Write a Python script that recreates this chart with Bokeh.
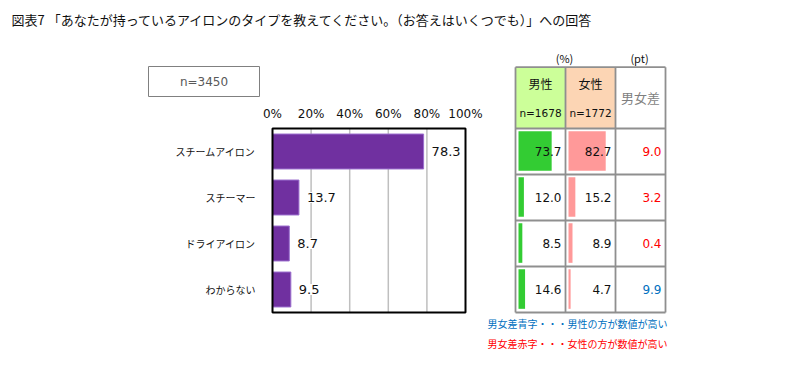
from bokeh.plotting import figure
from bokeh.models import Range1d
from bokeh.core.properties import value
from bokeh.embed import file_html
from bokeh.resources import INLINE

# ---------------- data ----------------
title_text = "図表7 「あなたが持っているアイロンのタイプを教えてください。（お答えはいくつでも）」への回答"
n_total = "n=3450"
categories = ["スチームアイロン", "スチーマー", "ドライアイロン", "わからない"]
total = [78.3, 13.7, 8.7, 9.5]
male = [73.7, 12.0, 8.5, 14.6]
female = [82.7, 15.2, 8.9, 4.7]
diff = [9.0, 3.2, 0.4, 9.9]
tick_values = [0, 20, 40, 60, 80, 100]
tick_labels = ["0%", "20%", "40%", "60%", "80%", "100%"]
col_headers = ["男性", "女性", "男女差"]
col_n = ["n=1678", "n=1772"]
unit_labels = ["(%)", "(pt)"]
notes = ["男女差青字・・・男性の方が数値が高い", "男女差赤字・・・女性の方が数値が高い"]

# ---------------- layout constants (pixels) ----------------
W, H = 810, 375
PLOT_L, PLOT_R = 272, 465       # bar chart plot area x
ROW_TOP, ROW_H = 128, 46        # rows y
TBL_L, COL_W = 515, 50          # table x
HDR_TOP = 66.7

JP = value("Noto Sans CJK JP")
NUM = value("DejaVu Sans")

p = figure(width=W, height=H, x_range=Range1d(0, W), y_range=Range1d(H, 0),
           x_axis_type=None, y_axis_type=None, toolbar_location=None,
           output_backend="svg", min_border=0)
p.outline_line_color = None
p.background_fill_color = "white"
p.border_fill_color = "white"

span = (PLOT_R - PLOT_L)
p.extra_x_ranges["pct"] = Range1d(-PLOT_L * 100 / span, (W - PLOT_L) * 100 / span)
p.extra_y_ranges["cat"] = Range1d((H - ROW_TOP) / ROW_H, -ROW_TOP / ROW_H)
p.extra_x_ranges["tbl"] = Range1d(-TBL_L / COL_W, (W - TBL_L) / COL_W)

nrows = len(categories)
rows_c = [i + 0.5 for i in range(nrows)]

# ---------------- title ----------------
p.text(x=[11], y=[19], text=[title_text], text_font=JP, text_font_size="13px",
       text_color="#111111", text_align="left", text_baseline="middle")

# ---------------- n box ----------------
p.quad(left=[148], right=[259], top=[66], bottom=[96], fill_color="white",
       line_color="#808080", line_width=1)
p.text(x=[203.5], y=[81], text=[n_total], text_font=NUM, text_font_size="12px",
       text_color="#595959", text_align="center", text_baseline="middle")

# ---------------- bar chart ----------------
grid_ticks = [t for t in tick_values if 0 < t < 100]
p.segment(x0=grid_ticks, x1=grid_ticks, y0=[0] * len(grid_ticks), y1=[nrows] * len(grid_ticks),
          x_range_name="pct", y_range_name="cat", line_color="#bfbfbf", line_width=1.5)
p.hbar(y=rows_c, left=0, right=total, height=0.76, x_range_name="pct", y_range_name="cat",
       fill_color="#7030A0", line_color="#9b6fce", line_width=1)
p.quad(left=[0], right=[100], top=[0], bottom=[nrows], x_range_name="pct", y_range_name="cat",
       fill_color=None, line_color="black", line_width=2)
p.text(x=tick_values, y=[0] * len(tick_values), text=tick_labels, x_range_name="pct",
       y_range_name="cat", y_offset=-15, text_font=NUM, text_font_size="12px",
       text_color="#111111", text_align="center", text_baseline="middle")
p.text(x=[0] * nrows, y=rows_c, text=categories, x_range_name="pct", y_range_name="cat",
       x_offset=-17, text_font=JP, text_font_size="10px", text_color="#111111",
       text_align="right", text_baseline="middle")
p.text(x=total, y=rows_c, text=[f"{v:.1f}" for v in total], x_range_name="pct",
       y_range_name="cat", x_offset=7, text_font=NUM, text_font_size="13px",
       text_color="#111111", text_align="left", text_baseline="middle",
       background_fill_color="white", padding=1)

# ---------------- table ----------------
# header fills
p.quad(left=[0, 1], right=[1, 2], top=[HDR_TOP, HDR_TOP], bottom=[ROW_TOP, ROW_TOP],
       x_range_name="tbl", fill_color=["#CCFF99", "#FCD5B4"], line_color=None)
# bars
p.quad(left=[0.06] * nrows, right=[0.06 + 0.9 * v / 100 for v in male],
       top=[i + 0.06 for i in range(nrows)], bottom=[i + 0.92 for i in range(nrows)],
       x_range_name="tbl", y_range_name="cat", fill_color="#33CC33", line_color=None)
p.quad(left=[1.06] * nrows, right=[1.06 + 0.9 * v / 100 for v in female],
       top=[i + 0.06 for i in range(nrows)], bottom=[i + 0.92 for i in range(nrows)],
       x_range_name="tbl", y_range_name="cat", fill_color="#FF9999", line_color=None)
# lines
p.segment(x0=[0, 1, 2, 3], x1=[0, 1, 2, 3], y0=[HDR_TOP] * 4, y1=[ROW_TOP + nrows * ROW_H] * 4,
          x_range_name="tbl", line_color="#8f8f8f", line_width=1.8)
p.segment(x0=[0], x1=[3], y0=[HDR_TOP], y1=[HDR_TOP], x_range_name="tbl",
          line_color="#8f8f8f", line_width=1.8)
p.segment(x0=[0] * (nrows + 1), x1=[3] * (nrows + 1), y0=list(range(nrows + 1)),
          y1=list(range(nrows + 1)), x_range_name="tbl", y_range_name="cat",
          line_color="#8f8f8f", line_width=1.8)
# header text
p.text(x=[0.5, 1.5], y=[83, 83], text=col_headers[:2], x_range_name="tbl", text_font=JP,
       text_font_size="12px", text_color="#111111", text_align="center", text_baseline="middle")
p.text(x=[0.5, 1.5], y=[112, 112], text=col_n, x_range_name="tbl", text_font=NUM,
       text_font_size="10.5px", text_color="#111111", text_align="center", text_baseline="middle")
p.text(x=[2.5], y=[97], text=[col_headers[2]], x_range_name="tbl", text_font=JP,
       text_font_size="13px", text_color="#7f7f7f", text_align="center", text_baseline="middle")
p.text(x=[0.98, 2.48], y=[57, 57], text=unit_labels, x_range_name="tbl", text_font=JP,
       text_font_size="11px", text_color="#111111", text_align="center", text_baseline="middle")
# values
p.text(x=[1] * nrows, y=rows_c, text=[f"{v:.1f}" for v in male], x_range_name="tbl",
       y_range_name="cat", x_offset=-4, text_font=NUM, text_font_size="12px",
       text_color="#111111", text_align="right", text_baseline="middle")
p.text(x=[2] * nrows, y=rows_c, text=[f"{v:.1f}" for v in female], x_range_name="tbl",
       y_range_name="cat", x_offset=-4, text_font=NUM, text_font_size="12px",
       text_color="#111111", text_align="right", text_baseline="middle")
diff_colors = ["#0070C0" if m > f else "#FF0000" for m, f in zip(male, female)]
p.text(x=[3] * nrows, y=rows_c, text=[f"{v:.1f}" for v in diff], x_range_name="tbl",
       y_range_name="cat", x_offset=-4, text_font=NUM, text_font_size="12px",
       text_color=diff_colors, text_align="right", text_baseline="middle")

# ---------------- notes ----------------
p.text(x=[487, 487], y=[323, 343], text=notes, text_font=JP, text_font_size="10px",
       text_color=["#0070C0", "#FF0000"], text_align="left", text_baseline="middle")

open("out.html", "w").write(file_html(p, INLINE))
